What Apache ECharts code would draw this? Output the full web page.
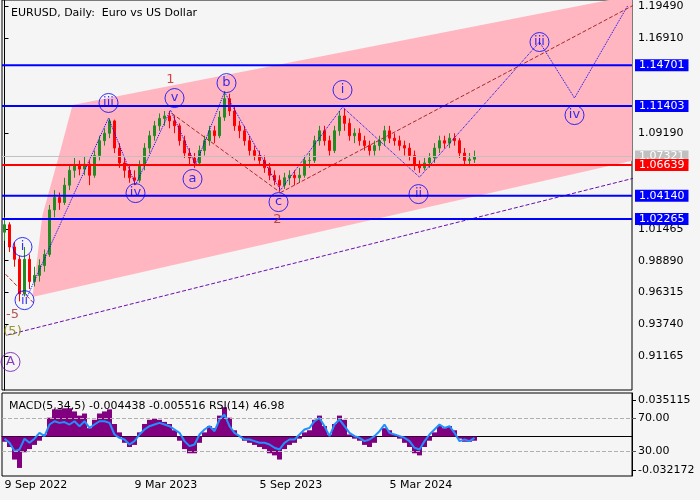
<!DOCTYPE html>
<html><head><meta charset="utf-8">
<script src="https://cdn.jsdelivr.net/npm/echarts@6/dist/echarts.min.js"></script>
<style>html,body{margin:0;padding:0;background:#f5f5f5}#c{width:700px;height:500px}</style>
</head><body><div id="c"></div>
<script>
// weekly candles [open, close, low, high]
const candles = [
[1.012,1.018,1.005,1.024],[1.018,1.000,0.996,1.020],[1.000,0.990,0.984,1.004],[0.990,0.962,0.956,0.993],
[0.962,0.990,0.960,1.000],[0.990,0.972,0.966,0.994],[0.972,0.977,0.968,0.984],[0.977,0.985,0.972,0.990],
[0.985,0.994,0.980,0.998],[0.994,1.030,0.992,1.034],[1.030,1.040,1.024,1.046],[1.040,1.036,1.030,1.044],
[1.036,1.050,1.034,1.056],[1.050,1.062,1.046,1.066],[1.062,1.066,1.056,1.072],[1.066,1.063,1.058,1.070],
[1.063,1.067,1.058,1.073],[1.067,1.058,1.050,1.070],[1.058,1.074,1.056,1.078],[1.074,1.086,1.070,1.090],
[1.086,1.092,1.082,1.096],[1.092,1.102,1.088,1.104],[1.102,1.080,1.076,1.103],[1.080,1.068,1.064,1.084],
[1.068,1.062,1.056,1.072],[1.062,1.056,1.052,1.066],[1.056,1.054,1.050,1.062],[1.054,1.066,1.052,1.070],
[1.066,1.080,1.062,1.084],[1.080,1.090,1.076,1.094],[1.090,1.098,1.086,1.102],[1.098,1.104,1.094,1.108],
[1.104,1.106,1.098,1.110],[1.106,1.102,1.096,1.110],[1.102,1.098,1.092,1.106],[1.098,1.086,1.082,1.100],
[1.086,1.076,1.072,1.090],[1.076,1.072,1.066,1.080],[1.072,1.068,1.064,1.076],[1.068,1.078,1.066,1.082],
[1.078,1.086,1.074,1.090],[1.086,1.094,1.082,1.098],[1.094,1.090,1.084,1.098],[1.090,1.105,1.088,1.110],
[1.105,1.120,1.102,1.126],[1.120,1.110,1.106,1.124],[1.110,1.098,1.094,1.114],[1.098,1.094,1.088,1.102],
[1.094,1.086,1.082,1.098],[1.086,1.078,1.074,1.090],[1.078,1.074,1.070,1.082],[1.074,1.070,1.066,1.078],
[1.070,1.064,1.060,1.074],[1.064,1.058,1.054,1.068],[1.058,1.054,1.050,1.062],[1.054,1.050,1.045,1.058],
[1.050,1.056,1.047,1.060],[1.056,1.058,1.050,1.062],[1.058,1.056,1.050,1.062],[1.056,1.058,1.052,1.064],
[1.058,1.070,1.056,1.074],[1.070,1.070,1.064,1.076],[1.070,1.086,1.068,1.090],[1.086,1.094,1.082,1.098],
[1.094,1.086,1.082,1.098],[1.086,1.078,1.074,1.090],[1.078,1.094,1.076,1.098],[1.094,1.106,1.090,1.110],
[1.106,1.100,1.094,1.112],[1.100,1.090,1.086,1.104],[1.090,1.092,1.084,1.096],[1.092,1.086,1.082,1.096],
[1.086,1.082,1.078,1.090],[1.082,1.078,1.074,1.086],[1.078,1.082,1.074,1.086],[1.082,1.086,1.078,1.090],
[1.086,1.094,1.082,1.098],[1.094,1.088,1.084,1.098],[1.088,1.086,1.082,1.092],[1.086,1.082,1.078,1.090],
[1.082,1.080,1.074,1.086],[1.080,1.074,1.070,1.084],[1.074,1.066,1.062,1.078],[1.066,1.064,1.060,1.070],
[1.064,1.068,1.062,1.072],[1.068,1.072,1.064,1.076],[1.072,1.080,1.068,1.084],[1.080,1.086,1.076,1.090],
[1.086,1.084,1.080,1.090],[1.084,1.088,1.080,1.092],[1.088,1.086,1.082,1.092],[1.086,1.076,1.072,1.088],
[1.076,1.070,1.066,1.080],[1.070,1.071,1.066,1.076],[1.071,1.073,1.068,1.078]
];
const macd = [-0.005,-0.010,-0.022,-0.030,-0.015,-0.012,-0.008,-0.004,0.002,0.018,0.026,0.026,0.027,0.027,0.024,0.020,0.022,0.008,0.016,0.022,0.024,0.026,0.012,0.004,-0.006,-0.010,-0.008,0.004,0.012,0.016,0.017,0.016,0.014,0.012,0.006,-0.004,-0.012,-0.016,-0.016,-0.006,0.004,0.010,0.008,0.020,0.028,0.018,0.006,0.000,-0.004,-0.006,-0.008,-0.010,-0.012,-0.016,-0.018,-0.022,-0.012,-0.008,-0.006,-0.002,0.004,0.006,0.016,0.020,0.010,0.002,0.012,0.020,0.016,0.002,-0.002,-0.004,-0.008,-0.010,-0.006,0.000,0.008,0.006,0.002,-0.002,-0.006,-0.010,-0.016,-0.018,-0.010,-0.004,0.004,0.010,0.008,0.010,0.006,-0.002,-0.005,-0.005,-0.004];
const rsi = [45,40,30,32,45,40,45,52,48,62,66,64,65,62,66,60,66,58,62,66,66,64,50,46,44,38,42,50,56,60,62,64,62,60,56,52,42,36,38,50,56,60,54,68,74,60,52,48,44,44,42,40,40,38,34,32,40,44,44,50,56,58,66,70,60,48,62,68,60,52,48,46,42,44,48,54,62,52,50,48,46,42,34,32,42,50,56,62,58,60,52,42,44,42,46];
const totalWeeks = 126;
const dateTicks = {0:'9 Sep 2022',26:'9 Mar 2023',51:'5 Sep 2023',77:'5 Mar 2024'};
const priceTicks = [1.19490,1.16910,1.09190,1.01465,0.98890,0.96315,0.93740,0.91165];
const blueLevels = [1.14701,1.11403,1.04140,1.02265];
const redLevel = 1.06639, lastPrice = 1.07321;
const channel = [[5.6,0.9595],[7.6,1.0258],[11.2,1.0784],[13.6,1.1148],[126,1.2038],[126,1.0703]];
const wavePath = [[4.6,0.9603],[20.8,1.1043],[26.2,1.0501],[33.2,1.1108],[38.2,1.0663],[44.0,1.1253],[55.2,1.0460],[67.6,1.1132],[83.0,1.0565],[107,1.1658],[114,1.1205],[124.6,1.1949]];
const brown1 = [[33.5,1.1080],[55.2,1.0440]];
const brown2 = [[55.2,1.0440],[126,1.1960]];
const brown3 = [[0.2,0.9780],[6.0,0.9540]];
const purpleLine = [[0.6,0.9288],[126,1.0558]];
const labelsCircled = [
 {t:'i',k:3.6,p:1.0000},{t:'ii',k:4.0,p:0.9570},{t:'iii',k:20.8,p:1.1165},{t:'iv',k:26.2,p:1.0436},
 {t:'v',k:34,p:1.1205},{t:'a',k:37.6,p:1.0550},{t:'b',k:44.4,p:1.1326},{t:'c',k:54.8,p:1.0363},
 {t:'i',k:67.6,p:1.1270},{t:'ii',k:82.8,p:1.0428},{t:'iii',k:107,p:1.1658},{t:'iv',k:114,p:1.1067},
 {t:'A',k:1.2,p:0.9070}];
const labelsPlain = [{t:'1',k:33.2,p:1.1350,c:'#cc1111'},{t:'2',k:54.6,p:1.0218,c:'#a52a2a'},
 {t:'-5',k:1.6,p:0.9451,c:'#a52a2a'},{t:'(5)',k:1.6,p:0.9313,c:'#808000'}];

const cats = Array.from({length:totalWeeks},(_,i)=>dateTicks[i]||'');
const ch = echarts.init(document.getElementById('c'));
const F = 'DejaVu Sans';
function lvl(v,bg,w){return {type:'line',xAxisIndex:1,yAxisIndex:0,data:[[-0.5,v],[totalWeeks-0.5,v]],silent:true,z:5,symbol:'none',clip:false,
  lineStyle:{color:bg,width:w,type:'solid'},
  endLabel:{show:true,formatter:v.toFixed(5),backgroundColor:bg,color:'#fff',padding:[1,4,0,4],fontSize:11,fontFamily:F,distance:3}};}
const lineS=(d,c,t)=>({type:'line',xAxisIndex:1,yAxisIndex:0,data:d,symbol:'none',silent:true,lineStyle:{color:c,width:1,type:t},z:4});
ch.setOption({
 animation:false,backgroundColor:'#f5f5f5',
 textStyle:{fontFamily:F},
 title:[{text:'EURUSD, Daily:  Euro vs US Dollar',left:6,top:3,textStyle:{fontSize:11,fontWeight:'normal',color:'#000',fontFamily:F}},
        {text:'MACD(5,34,5) -0.004438 -0.005516 RSI(14) 46.98',left:4,top:396,textStyle:{fontSize:11,fontWeight:'normal',color:'#000',fontFamily:F}}],
 grid:[{left:2,right:68,top:0,height:390,show:true,borderColor:'#000',borderWidth:1,backgroundColor:'#f5f5f5'},
       {left:2,right:68,top:393,height:83,show:true,borderColor:'#000',borderWidth:1,backgroundColor:'#f5f5f5'}],
 xAxis:[{type:'category',gridIndex:0,data:cats,show:false},
        {type:'value',gridIndex:0,min:-0.5,max:totalWeeks-0.5,show:false},
        {type:'category',gridIndex:1,data:cats,axisLine:{lineStyle:{color:'#000'}},
         axisTick:{interval:(i)=>!!dateTicks[i],alignWithLabel:true,length:5,lineStyle:{color:'#000'}},
         axisLabel:{interval:(i)=>!!dateTicks[i],align:'left',margin:4,color:'#000',fontSize:11,fontFamily:F,formatter:(v)=>v}}],
 yAxis:[{type:'value',gridIndex:0,position:'right',min:0.8843,max:1.1998,splitLine:{show:false},
         axisLine:{show:true,lineStyle:{color:'#000'}},axisTick:{show:true,customValues:priceTicks,length:4},
         axisLabel:{customValues:priceTicks,formatter:(v)=>v.toFixed(5),color:'#000',fontSize:11,fontFamily:F,margin:6}},
        {type:'value',gridIndex:1,position:'right',min:-0.0377,max:0.0416,splitLine:{show:false},
         axisLine:{show:true,lineStyle:{color:'#000'}},axisTick:{show:true,customValues:[0.035115,-0.032172],length:4},
         axisLabel:{customValues:[0.035115,-0.032172],formatter:(v)=>v.toFixed(6),color:'#000',fontSize:11,fontFamily:F,margin:6}},
        {type:'value',gridIndex:1,position:'right',min:0,max:100,show:true,splitLine:{show:false},axisLine:{show:false},
         axisTick:{show:true,customValues:[30,70],length:4},
         axisLabel:{customValues:[30,70],formatter:(v)=>v.toFixed(2),color:'#000',fontSize:11,fontFamily:F,margin:6}}],
 series:[
  {type:'custom',xAxisIndex:1,yAxisIndex:0,data:[0],silent:true,z:1,clip:true,
   renderItem:(p,api)=>({type:'polygon',shape:{points:channel.map(q=>api.coord(q))},style:{fill:'#ffb6c1'}})},
  lvl(lastPrice,'#c0c0c0',1),
  {type:'candlestick',xAxisIndex:0,yAxisIndex:0,data:candles,barWidth:3,z:3,
   itemStyle:{color:'#228B22',color0:'#ff0000',borderColor:'#228B22',borderColor0:'#ff0000',borderWidth:1}},
  ...blueLevels.map(v=>lvl(v,'#0000ff',2)), lvl(redLevel,'#ff0000',2),
  lineS(wavePath,'#0000ff','dotted'),
  lineS(brown1,'#a52a2a','dashed'),lineS(brown2,'#a52a2a','dashed'),lineS(brown3,'#a52a2a','dashed'),
  lineS(purpleLine,'#6a0dad','dashed'),
  {type:'scatter',xAxisIndex:1,yAxisIndex:0,z:6,silent:true,symbol:'circle',symbolSize:19,
   data:labelsCircled.map(o=>({value:[o.k,o.p],name:o.t,itemStyle:{color:'rgba(0,0,0,0)',borderColor:o.t==='A'?'#6a0dad':'#0000ff',borderWidth:1},
     label:{show:true,position:'inside',formatter:o.t,color:o.t==='A'?'#6a0dad':'#0000ff',fontSize:13,fontFamily:F}}))},
  {type:'scatter',xAxisIndex:1,yAxisIndex:0,z:6,silent:true,symbolSize:1,
   data:labelsPlain.map(o=>({value:[o.k,o.p],itemStyle:{color:'rgba(0,0,0,0)'},label:{show:true,position:'inside',formatter:o.t,color:o.c,fontSize:13,fontFamily:F}}))},
  {type:'bar',xAxisIndex:2,yAxisIndex:1,data:macd,barCategoryGap:0,itemStyle:{color:'#800080'},silent:true},
  {type:'line',xAxisIndex:2,yAxisIndex:2,data:rsi,symbol:'none',lineStyle:{color:'#1e90ff',width:2},silent:true,
   markLine:{symbol:'none',silent:true,label:{show:false},lineStyle:{color:'#b0b0b0',type:'dashed',width:1},data:[{yAxis:30},{yAxis:70}]}}
 ]
});
</script></body></html>
